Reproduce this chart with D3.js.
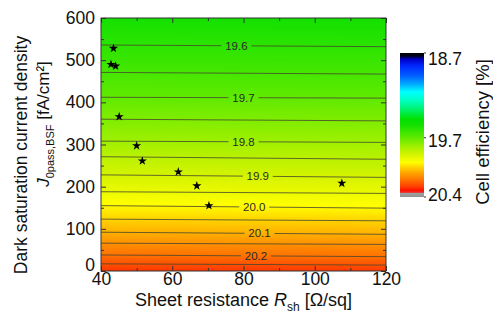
<!DOCTYPE html>
<html>
<head>
<meta charset="utf-8">
<script src="https://cdn.jsdelivr.net/npm/d3@7"></script>
<style>
  body { margin: 0; background: #fff; }
  text { font-family: "Liberation Sans", Arial, sans-serif; fill: #111; }
</style>
</head>
<body>
<svg id="chart" width="493" height="320"></svg>
<script>
// contour levels of cell efficiency (%) and the J0 (fA/cm2) where each line
// meets the left edge (Rsh = 40) and the right edge (Rsh = 120)
const levels   = [19.60, 19.65, 19.70, 19.75, 19.80, 19.85, 19.90, 19.95, 20.00, 20.05, 20.10, 20.15, 20.20, 20.25];
const jAtLeft  = [536, 471, 412, 360, 308, 271, 228, 188, 155, 123, 92, 66, 38, 17];
const jAtRight = [532, 467, 410, 356, 305, 265, 222, 184, 149, 119, 87, 63, 34, 14];

// labelled contours and the Rsh where their label sits
const labelLevels = [19.6, 19.7, 19.8, 19.9, 20.0, 20.1, 20.2];
const labelR      = [78, 80, 80, 84, 83, 84.5, 83.5];

// measured samples
const rsh = [43.5, 42.8, 44.1, 45.1, 50.0, 51.6, 61.7, 66.9, 70.3, 107.6];
const j0  = [528, 490, 486, 366, 297, 261, 235, 202, 155, 208];

const xTicks = [40, 60, 80, 100, 120];
const xMinor = [50, 70, 90, 110];
const yTicks = [0, 100, 200, 300, 400, 500, 600];
const yMinor = [50, 150, 250, 350, 450, 550];
const cbTicks = [18.7, 19.7, 20.4];

const svg = d3.select("#chart");
const plot = {left: 101, right: 386, top: 18, bottom: 271};
const pw = plot.right - plot.left, ph = plot.bottom - plot.top;

const x = d3.scaleLinear().domain([40, 120]).range([plot.left, plot.right]);
const y = d3.scaleLinear().domain([0, 600]).range([plot.bottom, plot.top]);

// colour map, fraction of the colour bar range -> colour
const cmapPos = [0, 0.02, 0.045, 0.09, 0.16, 0.22, 0.27, 0.33, 0.40, 0.46, 0.50, 0.53, 0.59, 0.65, 0.71, 0.76, 0.79, 0.83, 0.88, 0.93, 0.955, 0.968, 0.975, 1];
const cmapCol = ["#000000", "#00001a", "#0000c8", "#0028ff", "#0060ff", "#00b0ff", "#00ffff", "#00ffc0", "#00f060", "#00e000",
                 "#14e000", "#2ce400", "#62ea00", "#a2f000", "#d8f400", "#ffff00", "#ffd800", "#ffa800", "#ff7400", "#ff3c00",
                 "#ff1000", "#e83030", "#a0a0a0", "#909090"];
const vMin = cbTicks[0], vMax = cbTicks[cbTicks.length - 1];
const color = d3.scaleLinear()
    .domain(cmapPos.map(t => vMin + t * (vMax - vMin)))
    .range(cmapCol)
    .clamp(true);

// efficiency at (R, J)
function jLine(i, R) {
    const f = (R - 40) / 80;
    return jAtLeft[i] * (1 - f) + jAtRight[i] * f;
}
function efficiency(R, J) {
    const n = levels.length;
    let i = 0;
    while (i < n - 2 && J < jLine(i + 1, R)) i++;
    const ja = jLine(i, R), jb = jLine(i + 1, R);
    return levels[i] + (J - ja) / (jb - ja) * (levels[i + 1] - levels[i]);
}

// filled map
const canvas = document.createElement("canvas");
canvas.width = pw; canvas.height = ph;
const ctx = canvas.getContext("2d");
const img = ctx.createImageData(pw, ph);
for (let py = 0; py < ph; py++) {
    const J = y.invert(plot.top + py + 0.5);
    for (let px = 0; px < pw; px++) {
        const R = x.invert(plot.left + px + 0.5);
        const c = d3.rgb(color(efficiency(R, J)));
        const k = (py * pw + px) * 4;
        img.data[k] = c.r; img.data[k + 1] = c.g; img.data[k + 2] = c.b; img.data[k + 3] = 255;
    }
}
ctx.putImageData(img, 0, 0);
svg.append("image")
    .attr("x", plot.left).attr("y", plot.top)
    .attr("width", pw).attr("height", ph)
    .attr("href", canvas.toDataURL());

// contour lines with gaps for labels
const contours = svg.append("g");
const gapR = x.invert(plot.left + 15) - 40;
levels.forEach((lv, i) => {
    const li = labelLevels.findIndex(v => Math.abs(v - lv) < 1e-6);
    const segs = li < 0 ? [[40, 120]] : [[40, labelR[li] - gapR], [labelR[li] + gapR, 120]];
    segs.forEach(s => {
        contours.append("line")
            .attr("x1", x(s[0])).attr("y1", y(jLine(i, s[0])))
            .attr("x2", x(s[1])).attr("y2", y(jLine(i, s[1])))
            .attr("stroke", "#45452f").attr("stroke-width", 0.8);
    });
    if (li >= 0) {
        contours.append("text")
            .attr("x", x(labelR[li])).attr("y", y(jLine(i, labelR[li])))
            .attr("text-anchor", "middle").attr("dominant-baseline", "central")
            .style("font-size", "11.5px").style("fill", "#2a2a2a")
            .text(lv.toFixed(1));
    }
});

// stars
svg.append("g").selectAll("path")
    .data(rsh.map((r, i) => [r, j0[i]]))
    .enter().append("path")
    .attr("d", d3.symbol(d3.symbolStar, 26))
    .attr("transform", d => "translate(" + x(d[0]) + "," + y(d[1]) + ")")
    .attr("fill", "#000");

// axes, ticks pointing inward on all four sides
function addAxis(axis, tx, ty, labels) {
    const g = svg.append("g").attr("transform", "translate(" + tx + "," + ty + ")").call(axis);
    g.select(".domain").remove();
    g.selectAll(".tick line").attr("stroke", "#333");
    if (!labels) g.selectAll("text").remove();
    return g;
}
const xb = addAxis(d3.axisBottom(x).tickValues(xTicks).tickSize(-5).tickPadding(2), 0, plot.bottom, true);
xb.selectAll("text").style("font-size", "17.5px").style("fill", "#111");
addAxis(d3.axisBottom(x).tickValues(xMinor).tickSize(-3).tickFormat(""), 0, plot.bottom, false);
addAxis(d3.axisTop(x).tickValues(xTicks).tickSize(-5), 0, plot.top, false);
addAxis(d3.axisTop(x).tickValues(xMinor).tickSize(-3), 0, plot.top, false);
const yl = addAxis(d3.axisLeft(y).tickValues(yTicks).tickSize(-5).tickPadding(6), plot.left, 0, true);
yl.selectAll("text").style("font-size", "17.5px").style("fill", "#111")
    .attr("dy", d => d === 0 ? "-0.02em" : "0.32em");
addAxis(d3.axisLeft(y).tickValues(yMinor).tickSize(-3).tickFormat(""), plot.left, 0, false);
addAxis(d3.axisRight(y).tickValues(yTicks).tickSize(-5), plot.right, 0, false);
addAxis(d3.axisRight(y).tickValues(yMinor).tickSize(-3), plot.right, 0, false);

svg.append("rect")
    .attr("x", plot.left).attr("y", plot.top).attr("width", pw).attr("height", ph)
    .attr("fill", "none").attr("stroke", "#333").attr("stroke-width", 1);

// axis titles
const xt = svg.append("text")
    .attr("x", (plot.left + plot.right) / 2).attr("y", 306)
    .attr("text-anchor", "middle").style("font-size", "18px");
xt.append("tspan").text("Sheet resistance ");
xt.append("tspan").style("font-style", "italic").text("R");
xt.append("tspan").attr("dy", 5).style("font-size", "12px").text("sh");
xt.append("tspan").attr("dy", -5).text(" [\u03a9/sq]");

svg.append("text")
    .attr("transform", "translate(27,155) rotate(-90)")
    .attr("text-anchor", "middle").style("font-size", "17.5px")
    .text("Dark saturation current density");
const yt = svg.append("text")
    .attr("transform", "translate(49,124) rotate(-90)")
    .attr("text-anchor", "middle").style("font-size", "17px");
yt.append("tspan").style("font-style", "italic").text("J");
yt.append("tspan").attr("dy", 5).style("font-size", "11px").text("0pass,BSF");
yt.append("tspan").attr("dy", -5).text(" [fA/cm\u00b2]");

// colour bar
const cb = {x: 400, w: 24, top: 53, bottom: 197};
const cbY = d3.scaleLinear().domain([vMin, vMax]).range([cb.top, cb.bottom]);
const grad = svg.append("defs").append("linearGradient")
    .attr("id", "cbGrad").attr("x1", 0).attr("y1", 0).attr("x2", 0).attr("y2", 1);
grad.selectAll("stop").data(cmapPos).enter().append("stop")
    .attr("offset", d => d * 100 + "%")
    .attr("stop-color", (d, i) => cmapCol[i]);
svg.append("rect")
    .attr("x", cb.x).attr("y", cb.top).attr("width", cb.w).attr("height", cb.bottom - cb.top)
    .attr("fill", "url(#cbGrad)");
svg.append("g").selectAll("line").data(cbTicks).enter().append("line")
    .attr("x1", cb.x + cb.w).attr("x2", cb.x + cb.w + 2)
    .attr("y1", d => cbY(d)).attr("y2", d => cbY(d))
    .attr("stroke", "#333");
svg.append("g").selectAll("text").data(cbTicks).enter().append("text")
    .attr("x", cb.x + cb.w + 4)
    .attr("y", d => Math.min(Math.max(cbY(d) + 3, cb.top + 6), cb.bottom - 2))
    .attr("dominant-baseline", "central")
    .style("font-size", "17.5px")
    .text(d => d.toFixed(1));
svg.append("text")
    .attr("transform", "translate(489,132) rotate(-90)")
    .attr("text-anchor", "middle").style("font-size", "18.5px")
    .text("Cell efficiency [%]");
</script>
</body>
</html>
